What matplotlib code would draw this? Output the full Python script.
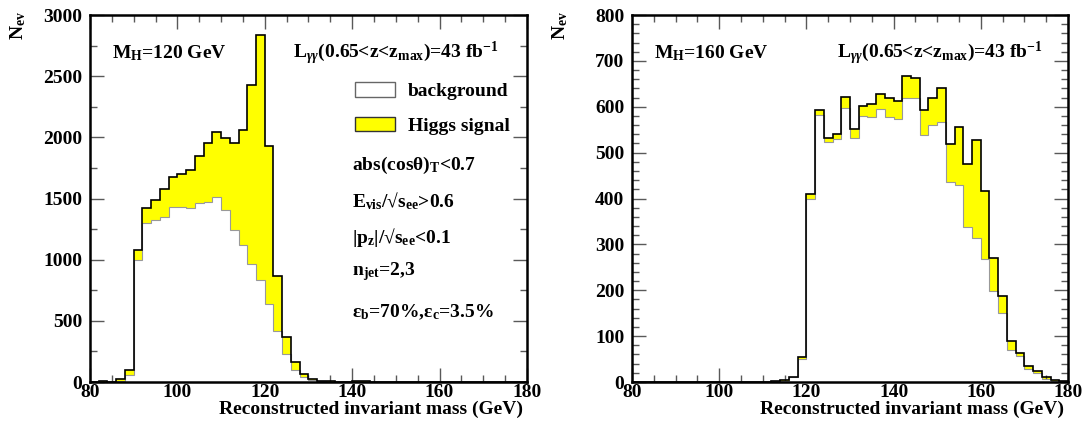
import numpy as np
import matplotlib
matplotlib.use("Agg")
import matplotlib.pyplot as plt
from matplotlib.patches import Patch
from matplotlib.ticker import MultipleLocator

plt.rcParams['font.family'] = ['Liberation Serif', 'DejaVu Serif']
plt.rcParams['font.weight'] = 'bold'
plt.rcParams['mathtext.fontset'] = 'custom'
plt.rcParams['mathtext.rm'] = 'Liberation Serif:bold'
plt.rcParams['mathtext.it'] = 'Liberation Serif:bold:italic'
plt.rcParams['mathtext.bf'] = 'Liberation Serif:bold'

# ---- data ----
edges = np.arange(80, 182, 2)

# M_H = 120 GeV : total (bkg + signal) and background per 2 GeV bin
total_120 = [0, 8, 0, 25, 98, 1083, 1424, 1486, 1574, 1677,
             1699, 1732, 1846, 1955, 2045, 1991, 1950, 2064, 2427, 2836,
             1931, 870, 368, 164, 63, 27, 11, 5, 3, 2,
             6, 5, 0, 0, 0, 0, 0, 0, 0, 0,
             0, 0, 0, 0, 0, 0, 0, 0, 0, 0]
bkg_120 = [0, 2, 0, 10, 55, 1001, 1301, 1323, 1347, 1432,
           1432, 1424, 1467, 1475, 1514, 1404, 1246, 1118, 968, 837,
           641, 415, 226, 101, 41, 14, 5, 3, 2, 1,
           1, 1, 0, 0, 0, 0, 0, 0, 0, 0,
           0, 0, 0, 0, 0, 0, 0, 0, 0, 0]

# M_H = 160 GeV
total_160 = [0, 0, 0, 0, 0, 0, 0, 0, 0, 0,
             0, 0, 0, 0, 0, 0, 3, 4, 11, 54,
             409, 593, 532, 540, 622, 551, 602, 606, 627, 619,
             612, 667, 663, 592, 620, 641, 519, 555, 476, 528,
             416, 271, 188, 89, 63, 34, 23, 10, 4, 3]
bkg_160 = [0, 0, 0, 0, 0, 0, 0, 0, 0, 0,
           0, 0, 0, 0, 0, 0, 2, 3, 10, 50,
           400, 581, 524, 530, 598, 532, 580, 578, 596, 578,
           573, 620, 620, 538, 560, 567, 437, 429, 337, 315,
           268, 199, 150, 70, 56, 28, 20, 7, 3, 2]

xlabel = "Reconstructed invariant mass (GeV)"
ylabel = r"N$_{\mathrm{ev}}$"
lumi = r"L$_{\gamma\gamma}$(0.65<z<z$_{\mathrm{max}}$)=43 fb$^{\mathrm{-1}}$"
cuts = [r"abs(cosθ)$_{\mathrm{T}}$<0.7",
        r"E$_{\mathrm{vis}}$/√s$_{\mathrm{ee}}$>0.6",
        r"|p$_{\mathrm{z}}$|/√s$_{\mathrm{ee}}$<0.1",
        r"n$_{\mathrm{jet}}$=2,3",
        r"ε$_{\mathrm{b}}$=70%,ε$_{\mathrm{c}}$=3.5%"]

YEL = '#ffff00'
FS = 14

fig = plt.figure(figsize=(10.84, 4.23), dpi=100)
axL = fig.add_axes([0.0830, 0.0969, 0.4031, 0.8676])
axR = fig.add_axes([0.5830, 0.0969, 0.4022, 0.8676])


def draw(ax, total, bkg, ymax, ymaj, ymin):
    total = np.asarray(total, float)
    bkg = np.asarray(bkg, float)
    ax.stairs(total, edges, fill=True, color=YEL, zorder=1)
    ax.stairs(bkg, edges, fill=True, color='white', zorder=2)
    ax.stairs(bkg, edges, color='0.6', lw=0.8, zorder=3)
    ax.stairs(total, edges, color='black', lw=1.2, zorder=4)
    ax.set_xlim(80, 180)
    ax.set_ylim(0, ymax)
    ax.xaxis.set_major_locator(MultipleLocator(20))
    ax.xaxis.set_minor_locator(MultipleLocator(5))
    ax.yaxis.set_major_locator(MultipleLocator(ymaj))
    ax.yaxis.set_minor_locator(MultipleLocator(ymin))
    ax.tick_params(which='both', direction='in', top=True, right=True,
                   color='0.35', width=1.0, labelsize=FS)
    ax.tick_params(which='major', length=10)
    ax.tick_params(which='minor', length=5)
    ax.tick_params(axis='x', which='both', pad=1.5)
    ax.tick_params(axis='y', which='both', pad=5.5)
    for lab in ax.get_xticklabels() + ax.get_yticklabels():
        lab.set_fontweight('bold')
    for s in ax.spines.values():
        s.set_linewidth(1.8)
        s.set_zorder(6)
    ax.set_xlabel(xlabel, fontsize=FS, fontweight='bold', loc='right')
    ax.xaxis.set_label_coords(0.991, -0.050)
    ax.set_ylabel(ylabel, fontsize=FS, fontweight='bold', loc='top')
    ax.yaxis.set_label_coords(-0.142, 1.01)


draw(axL, total_120, bkg_120, 3000, 500, 250)
draw(axR, total_160, bkg_160, 800, 100, 20)

# annotations, left
axL.text(0.05, 0.883, r"M$_{\mathrm{H}}$=120 GeV", transform=axL.transAxes,
         fontsize=FS, fontweight='bold', va='baseline', ha='left')
axL.text(0.465, 0.883, lumi, transform=axL.transAxes,
         fontsize=FS, fontweight='bold', va='baseline', ha='left')
cut_y = [0.591, 0.493, 0.395, 0.300, 0.191]
for t, yy in zip(cuts, cut_y):
    axL.text(0.600, yy, t, transform=axL.transAxes, fontsize=FS,
             fontweight='bold', va='center', ha='left')

handles = [Patch(facecolor='white', edgecolor='0.4', lw=1.0),
           Patch(facecolor=YEL, edgecolor='0.2', lw=1.0)]
leg = axL.legend(handles, ['background', 'Higgs signal'], frameon=False,
                 loc='upper left', bbox_to_anchor=(0.606, 0.818),
                 borderaxespad=0, borderpad=0, handlelength=2.06,
                 handleheight=0.8, handletextpad=0.67, labelspacing=0.85,
                 prop={'family': ['Liberation Serif'], 'weight': 'bold', 'size': FS})

# annotations, right
axR.text(0.05, 0.883, r"M$_{\mathrm{H}}$=160 GeV", transform=axR.transAxes,
         fontsize=FS, fontweight='bold', va='baseline', ha='left')
axR.text(0.470, 0.883, lumi, transform=axR.transAxes,
         fontsize=FS, fontweight='bold', va='baseline', ha='left')

fig.savefig("out.png", dpi=100)
